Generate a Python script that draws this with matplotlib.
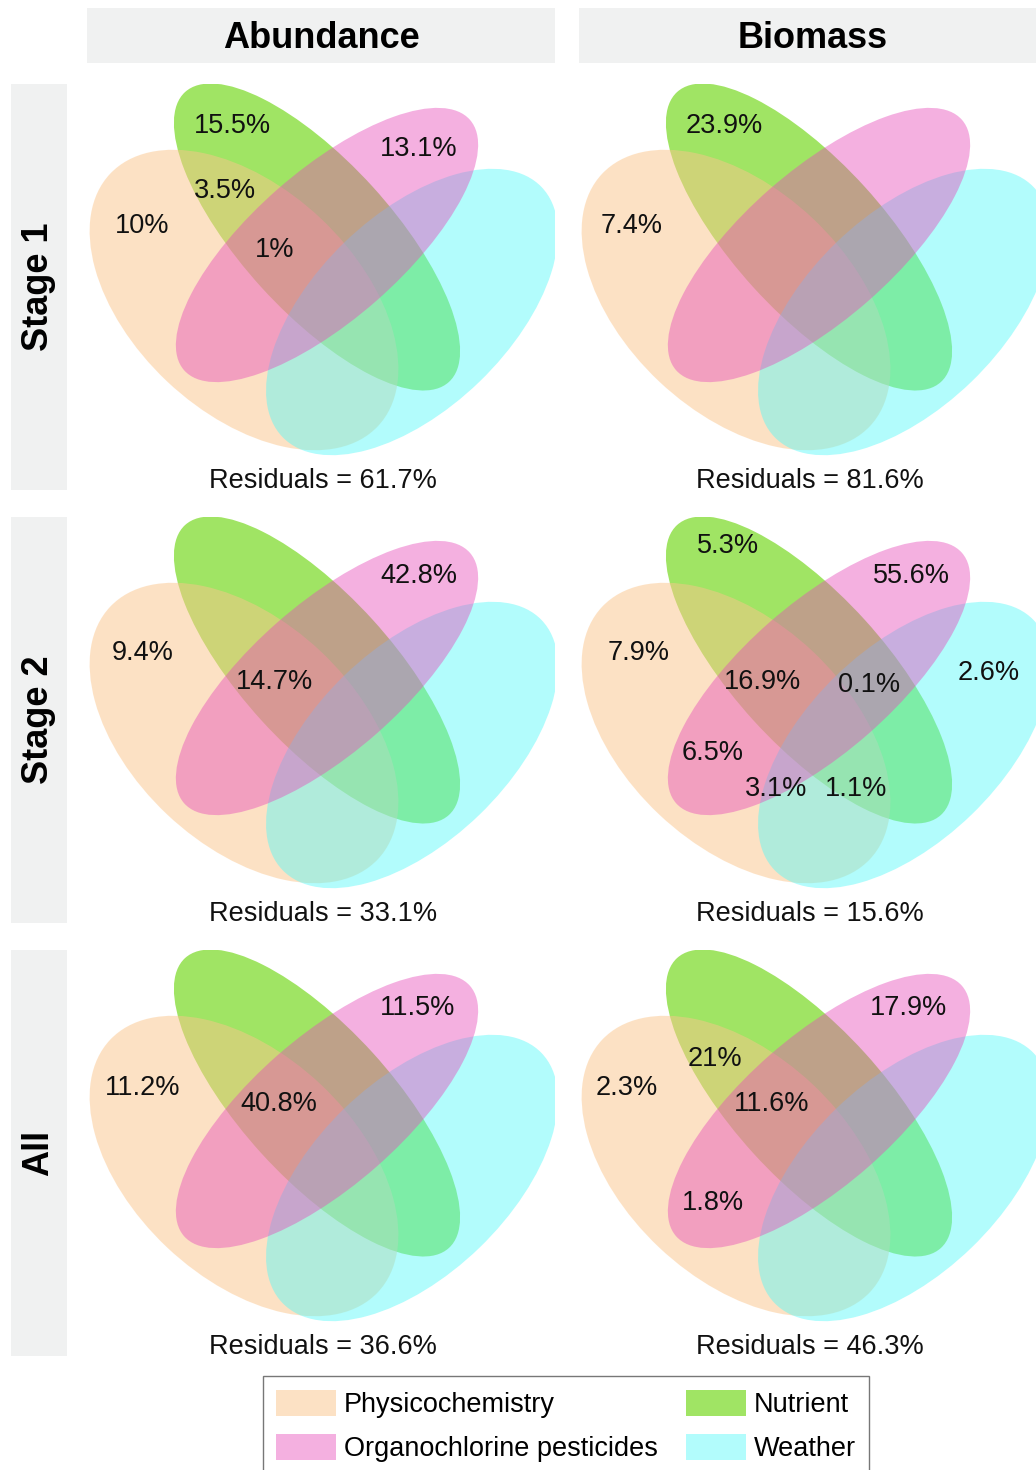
import matplotlib
matplotlib.use("Agg")
import matplotlib.pyplot as plt
from matplotlib.patches import Ellipse, Patch

plt.rcParams['font.family'] = ['Liberation Sans', 'DejaVu Sans']

# ---------------- data ----------------
col_labels = ["Abundance", "Biomass"]
row_labels = ["Stage 1", "Stage 2", "All"]
set_names = ["Physicochemistry", "Nutrient", "Organochlorine pesticides", "Weather"]

# region codes: P=Physicochemistry, N=Nutrient, O=Organochlorine, W=Weather
abund_s1_regions = ["N", "O", "P", "PN", "PNO"]
abund_s1_values = [15.5, 13.1, 10, 3.5, 1]
abund_s1_resid = 61.7

bio_s1_regions = ["N", "P"]
bio_s1_values = [23.9, 7.4]
bio_s1_resid = 81.6

abund_s2_regions = ["O", "P", "PNO"]
abund_s2_values = [42.8, 9.4, 14.7]
abund_s2_resid = 33.1

bio_s2_regions = ["N", "O", "P", "PNO", "NOW", "W", "PO", "POW", "PNW"]
bio_s2_values = [5.3, 55.6, 7.9, 16.9, 0.1, 2.6, 6.5, 3.1, 1.1]
bio_s2_resid = 15.6

abund_all_regions = ["O", "P", "PNO"]
abund_all_values = [11.5, 11.2, 40.8]
abund_all_resid = 36.6

bio_all_regions = ["O", "P", "PN", "PNO", "PO"]
bio_all_values = [17.9, 2.3, 21, 11.6, 1.8]
bio_all_resid = 46.3

panels = [
    [(abund_s1_regions, abund_s1_values, abund_s1_resid),
     (bio_s1_regions, bio_s1_values, bio_s1_resid)],
    [(abund_s2_regions, abund_s2_values, abund_s2_resid),
     (bio_s2_regions, bio_s2_values, bio_s2_resid)],
    [(abund_all_regions, abund_all_values, abund_all_resid),
     (bio_all_regions, bio_all_values, bio_all_resid)],
]

# ---------------- layout / style ----------------
W, H = 1036, 1470
fig = plt.figure(figsize=(W / 100, H / 100), dpi=100)
fig.patch.set_facecolor("white")


def fbox(x0, y0, x1, y1):
    return [x0 / W, 1 - y1 / H, (x1 - x0) / W, (y1 - y0) / H]


strip_color = "#F0F1F1"
col_x0 = [87, 579]
row_y0 = [84, 517, 950]
resid_x = [236, 231]
pw, ph = 468, 404

# ellipse geometry in panel-local pixel coordinates (y downward)
ell_style = {
    "N": dict(xy=(230, 153), w=392, h=150, ang=47.7, color=(110/255, 214/255, 17/255), alpha=0.65, z=1),
    "P": dict(xy=(157, 216), w=368, h=224, ang=43.3, color=(251/255, 197/255, 139/255), alpha=0.5, z=2),
    "W": dict(xy=(325, 228), w=360, h=194, ang=-44.0, color=(84/255, 249/255, 249/255), alpha=0.45, z=3),
    "O": dict(xy=(240, 161), w=380, h=149, ang=-41.2, color=(230/255, 76/255, 186/255), alpha=0.44, z=4),
}

# label anchor positions for each region (panel-local)
region_pos = {
    "N": (145, 42), "O": (332, 62), "P": (55, 142), "PN": (138, 107),
    "PNO": (188, 162), "NOW": (290, 165), "W": (410, 156), "PO": (134, 236),
    "POW": (197, 272), "PNW": (277, 272),
}
# small per-panel adjustments
pos_adjust = {
    (0, 0): {"PNO": (0, 4), "O": (0, 3)},
    (1, 0): {"O": (0, -3), "PNO": (-1, 3), "P": (1, -6)},
    (1, 1): {"N": (4, -13), "O": (0, -3), "P": (5, -6), "PNO": (-4, 3), "NOW": (0, 3)},
    (2, 0): {"O": (-1, -4), "P": (1, -4), "PNO": (4, -8)},
    (2, 1): {"O": (-3, -4), "P": (-7, -4), "PN": (-2, 2), "PNO": (5, -8), "PO": (0, 17)},
    (0, 1): {"P": (-2, 0)},
}

label_fs = 19.5

for r in range(3):
    for c in range(2):
        x0, y0 = col_x0[c], row_y0[r]
        ax = fig.add_axes(fbox(x0, y0, x0 + pw, y0 + ph))
        ax.set_xlim(0, pw)
        ax.set_ylim(ph, 0)
        ax.axis("off")
        for key in ["N", "P", "W", "O"]:
            s = ell_style[key]
            ax.add_patch(Ellipse(s["xy"], s["w"], s["h"], angle=s["ang"],
                                 facecolor=s["color"], alpha=s["alpha"],
                                 edgecolor="none", zorder=s["z"]))
        regions, values, resid = panels[r][c]
        adj = pos_adjust.get((r, c), {})
        for reg, val in zip(regions, values):
            px, py = region_pos[reg]
            dx, dy = adj.get(reg, (0, 0))
            ax.text(px + dx, py + dy, f"{val:g}%", ha="center", va="center",
                    fontsize=label_fs, color="#111111", zorder=10, clip_on=False)
        ax.text(resid_x[c], 397, f"Residuals = {resid:g}%", ha="center", va="center",
                fontsize=label_fs, color="#111111", zorder=10, clip_on=False)

# top strips
for c, lab in enumerate(col_labels):
    x0 = col_x0[c]
    sax = fig.add_axes(fbox(x0, 8, x0 + pw, 63))
    sax.set_facecolor(strip_color)
    sax.set_xticks([]); sax.set_yticks([])
    for sp in sax.spines.values():
        sp.set_visible(False)
    sax.text(0.5, 0.45, lab, ha="center", va="center", fontsize=26,
             fontweight="bold", transform=sax.transAxes)

# left strips
for r, lab in enumerate(row_labels):
    y0 = row_y0[r]
    sax = fig.add_axes(fbox(11, y0, 67, y0 + ph + 2))
    sax.set_facecolor(strip_color)
    sax.set_xticks([]); sax.set_yticks([])
    for sp in sax.spines.values():
        sp.set_visible(False)
    sax.text(0.5, 0.5, lab, ha="center", va="center", fontsize=26,
             fontweight="bold", rotation=90, transform=sax.transAxes)

# legend
order = ["P", "O", "N", "W"]
handles = [Patch(facecolor=ell_style[k]["color"], alpha=ell_style[k]["alpha"],
                 edgecolor="none") for k in order]
labels = [set_names[["P", "N", "O", "W"].index(k)] for k in order]
leg = fig.legend(handles, labels, ncol=2, loc="upper center",
                 bbox_to_anchor=(566 / W, 1 - 1376 / H),
                 frameon=True, fancybox=False, edgecolor="#555555",
                 fontsize=label_fs, handlelength=2.2, handleheight=1.1,
                 columnspacing=1.05, handletextpad=0.3, labelspacing=0.6,
                 borderpad=0.5, borderaxespad=0)
leg.get_frame().set_linewidth(1.0)

fig.savefig("out.png", dpi=100, facecolor="white")
